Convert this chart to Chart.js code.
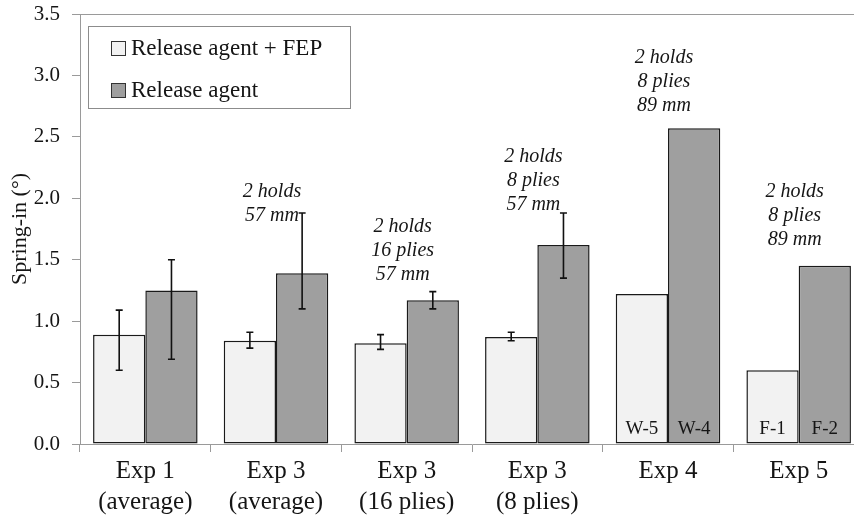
<!DOCTYPE html>
<html>
<head>
<meta charset="utf-8">
<script src="https://cdn.jsdelivr.net/npm/chart.js@4.4.0/dist/chart.umd.min.js"></script>
<style>
  html, body { margin: 0; padding: 0; background: #fff; overflow: hidden; }
  #wrap { width: 854px; height: 519px; overflow: hidden; }
</style>
</head>
<body>
<div id="wrap"><canvas id="springChart" width="870" height="519"></canvas></div>
<script>
/* =========================================================
   DATA
========================================================= */
const categories = [
    ["Exp 1", "(average)"],
    ["Exp 3", "(average)"],
    ["Exp 3", "(16 plies)"],
    ["Exp 3", "(8 plies)"],
    ["Exp 4"],
    ["Exp 5"]
];
const seriesNames = ["Release agent + FEP", "Release agent"];

const fepValues   = [0.89, 0.84, 0.82, 0.87, 1.22, 0.60];
const agentValues = [1.25, 1.39, 1.17, 1.62, 2.57, 1.45];

// error bars (low / high ends), null = none
const fepErrLow    = [0.60, 0.78, 0.77, 0.84, null, null];
const fepErrHigh   = [1.09, 0.91, 0.89, 0.91, null, null];
const agentErrLow  = [0.69, 1.10, 1.10, 1.35, null, null];
const agentErrHigh = [1.50, 1.88, 1.24, 1.88, null, null];

// labels written at the foot of some bars
const fepBarLabels   = ["", "", "", "", "W-5", "F-1"];
const agentBarLabels = ["", "", "", "", "W-4", "F-2"];

// notes above the groups, first line placed at this value
const noteLines = [
    null,
    ["2 holds", "57 mm"],
    ["2 holds", "16 plies", "57 mm"],
    ["2 holds", "8 plies", "57 mm"],
    ["2 holds", "8 plies", "89 mm"],
    ["2 holds", "8 plies", "89 mm"]
];
const noteTopValue = [null, 2.05, 1.77, 2.34, 3.14, 2.05];

const yTickValues = [0, 0.5, 1.0, 1.5, 2.0, 2.5, 3.0, 3.5];

/* =========================================================
   STYLE
========================================================= */
const SERIF = "'Liberation Serif', 'Times New Roman', serif";
const TEXT = "#151515";
const AXIS = "#9a9a9a";
const LIGHT = "#f2f2f2";
const DARK = "#9f9f9f";
const EDGE = "#1a1a1a";

/* =========================================================
   PLUGINS
========================================================= */
const errorBars = {
    id: "errorBars",
    afterDatasetsDraw(chart) {
        const { ctx } = chart;
        const y = chart.scales.y;
        ctx.save();
        ctx.strokeStyle = "#111";
        ctx.lineWidth = 1.6;
        chart.data.datasets.forEach((ds, di) => {
            const meta = chart.getDatasetMeta(di);
            meta.data.forEach((bar, i) => {
                if (ds.errLow[i] == null) return;
                const yl = y.getPixelForValue(ds.errLow[i]);
                const yh = y.getPixelForValue(ds.errHigh[i]);
                ctx.beginPath();
                ctx.moveTo(bar.x, yl); ctx.lineTo(bar.x, yh);
                ctx.moveTo(bar.x - 3.5, yl); ctx.lineTo(bar.x + 3.5, yl);
                ctx.moveTo(bar.x - 3.5, yh); ctx.lineTo(bar.x + 3.5, yh);
                ctx.stroke();
            });
        });
        ctx.restore();
    }
};

const textMarks = {
    id: "textMarks",
    afterDatasetsDraw(chart) {
        const { ctx } = chart;
        const x = chart.scales.x, y = chart.scales.y;
        ctx.save();
        ctx.fillStyle = TEXT;
        ctx.textAlign = "center";
        ctx.textBaseline = "middle";

        // bar foot labels
        ctx.font = "19px " + SERIF;
        chart.data.datasets.forEach((ds, di) => {
            const meta = chart.getDatasetMeta(di);
            meta.data.forEach((bar, i) => {
                if (!ds.footLabels[i]) return;
                ctx.fillText(ds.footLabels[i], bar.x, y.getPixelForValue(0) - 15);
            });
        });

        // notes
        ctx.font = "italic 20px " + SERIF;
        noteLines.forEach((lines, i) => {
            if (!lines) return;
            const cx = x.getPixelForValue(i) - 4;
            const top = y.getPixelForValue(noteTopValue[i]);
            lines.forEach((t, k) => ctx.fillText(t, cx, top + k * 24));
        });
        ctx.restore();
    }
};

const frameAndLegend = {
    id: "frameAndLegend",
    afterDraw(chart) {
        const { ctx, chartArea } = chart;
        ctx.save();
        // top frame line
        ctx.strokeStyle = AXIS;
        ctx.lineWidth = 1;
        ctx.beginPath();
        ctx.moveTo(chartArea.left, chartArea.top + 0.5);
        ctx.lineTo(chart.width, chartArea.top + 0.5);
        ctx.stroke();

        // legend box
        ctx.fillStyle = "#fff";
        ctx.fillRect(88, 26, 262, 82);
        ctx.strokeStyle = "#8c8c8c";
        ctx.strokeRect(88.5, 26.5, 262, 82);

        ctx.font = "23px " + SERIF;
        ctx.textBaseline = "middle";
        chart.data.datasets.forEach((ds, i) => {
            const cy = 48 + i * 42;
            ctx.fillStyle = ds.backgroundColor;
            ctx.fillRect(111, cy - 7, 15, 15);
            ctx.strokeStyle = "#333";
            ctx.strokeRect(111.5, cy - 6.5, 14, 14);
            ctx.fillStyle = TEXT;
            ctx.fillText(ds.label, 131, cy + 1);
        });
        ctx.restore();
    }
};

/* =========================================================
   CHART
========================================================= */
const canvas = document.getElementById("springChart");

new Chart(canvas, {
    type: "bar",
    data: {
        labels: categories,
        datasets: [{
            label: seriesNames[0],
            data: fepValues,
            errLow: fepErrLow,
            errHigh: fepErrHigh,
            footLabels: fepBarLabels,
            backgroundColor: LIGHT,
            borderColor: EDGE,
            borderWidth: 1.5,
            borderSkipped: false,
            categoryPercentage: 0.8,
            barPercentage: 1.0
        }, {
            label: seriesNames[1],
            data: agentValues,
            errLow: agentErrLow,
            errHigh: agentErrHigh,
            footLabels: agentBarLabels,
            backgroundColor: DARK,
            borderColor: EDGE,
            borderWidth: 1.5,
            borderSkipped: false,
            categoryPercentage: 0.8,
            barPercentage: 1.0
        }]
    },
    options: {
        responsive: false,
        animation: false,
        devicePixelRatio: 1,
        layout: { padding: { top: 14, right: 6, left: 0, bottom: 0 } },
        plugins: {
            legend: { display: false },
            tooltip: { enabled: false }
        },
        scales: {
            x: {
                offset: true,
                grid: { offset: true, drawOnChartArea: false, tickLength: 8, color: AXIS },
                border: { color: AXIS },
                ticks: {
                    color: TEXT,
                    padding: 4,
                    maxRotation: 0,
                    autoSkip: false,
                    font: { family: SERIF, size: 25, lineHeight: 1.24 }
                },
                afterFit: s => { s.height = 75; s.paddingLeft = 0; s.paddingRight = 0; }
            },
            y: {
                min: 0,
                max: 3.5,
                afterBuildTicks: s => { s.ticks = yTickValues.map(v => ({ value: v })); },
                grid: { drawOnChartArea: false, tickLength: 8, color: AXIS },
                border: { color: AXIS },
                ticks: {
                    color: TEXT,
                    padding: 12,
                    font: { family: SERIF, size: 21 },
                    callback: v => Number(v).toFixed(1)
                },
                title: {
                    display: true,
                    text: "Spring-in (°)",
                    color: TEXT,
                    padding: { top: 7, bottom: 0 },
                    font: { family: SERIF, size: 22 }
                },
                afterFit: s => { s.width = 80; s.paddingTop = 0; s.paddingBottom = 0; }
            }
        }
    },
    plugins: [errorBars, textMarks, frameAndLegend]
});
</script>
</body>
</html>
